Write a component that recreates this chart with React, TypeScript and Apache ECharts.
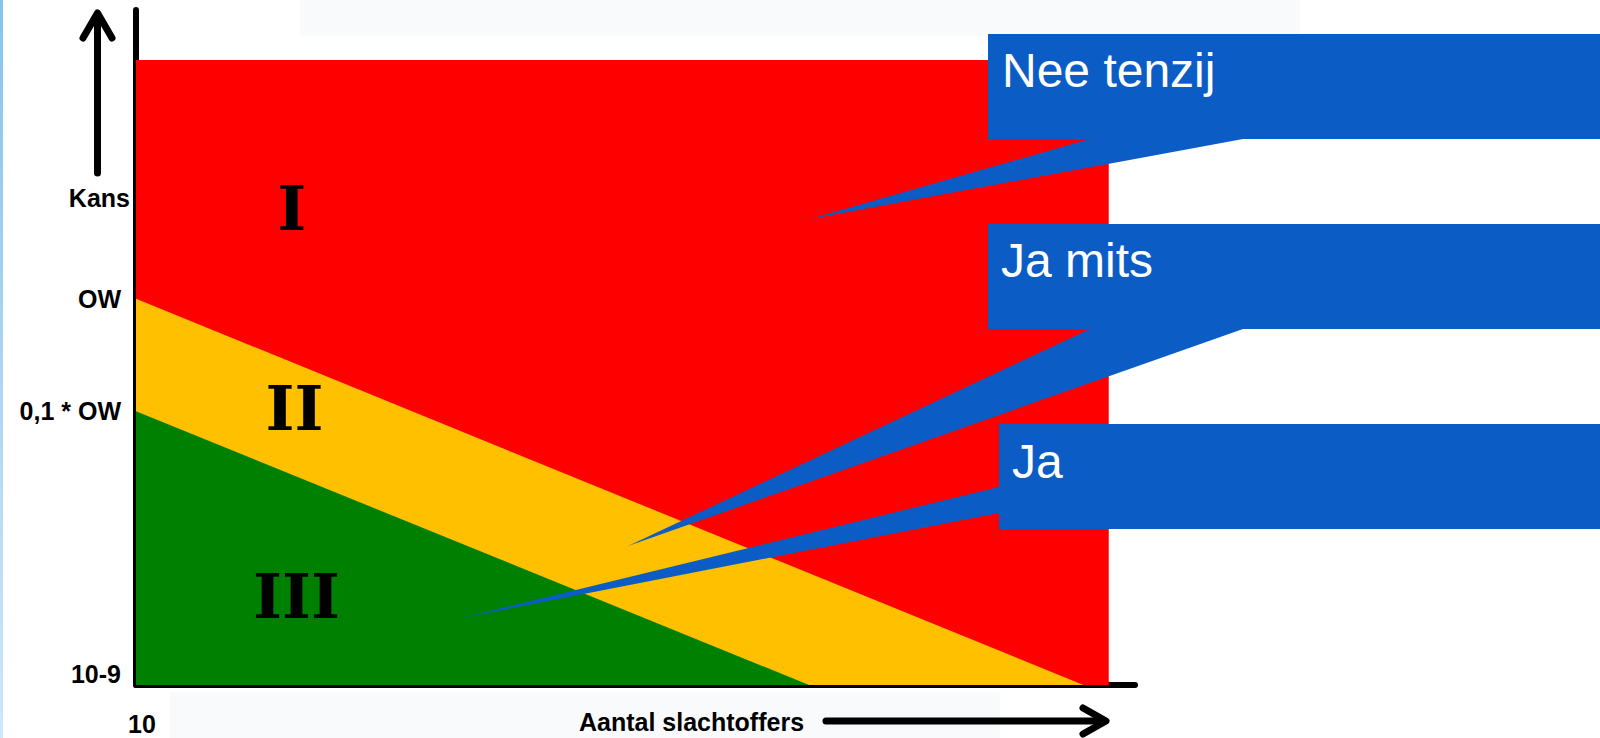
import React, { useEffect, useRef } from "react";
import * as echarts from "echarts";

// Zone boundaries (x: share of the axis, y: level on the probability axis)
const redZone = [[0, 100], [100, 100]];
const orangeZone = [[0, 61.8], [97.4, 0]];
const greenZone = [[0, 43.8], [69.2, 0]];

// Roman zone labels
const zoneNames = ["I", "II", "III"];
const zoneX = [16.0, 16.3, 16.5];
const zoneY = [76.3, 44.3, 14.2];

// Axis tick labels
const yTickValues = [1.8, 43.8, 61.8];
const yTickLabels = ["10-9", "0,1 * OW", "OW"];
const xTickValues = [0];
const xTickLabels = ["10"];

const X_MAX = 102.7;
const Y_MAX = 108;

const FONT = "'Liberation Sans', Arial, sans-serif";
const BLUE = "#0B5DC5";

export default function App() {
  const ref = useRef<HTMLDivElement>(null);

  useEffect(() => {
    if (!ref.current) return;
    const chart = echarts.init(ref.current, undefined, { renderer: "svg" });

    const areaSeries = (data: number[][], color: string) => ({
      type: "line",
      data,
      symbol: "none",
      lineStyle: { width: 0, color },
      areaStyle: { color, opacity: 1 },
      silent: true,
    });

    const callout = (pts: number[][], text: string, tx: number, ty: number) => [
      {
        type: "polygon",
        z: 100,
        shape: { points: pts },
        style: { fill: BLUE },
        silent: true,
      },
      {
        type: "text",
        z: 101,
        x: tx,
        y: ty,
        style: {
          text,
          fill: "#ffffff",
          font: `48px ${FONT}`,
          textAlign: "left",
          textVerticalAlign: "middle",
        },
      },
    ];

    const option: any = {
      animation: false,
      backgroundColor: "#ffffff",
      grid: { left: 136, right: 465, top: 10, bottom: 53, containLabel: false },
      xAxis: {
        type: "value",
        min: 0,
        max: X_MAX,
        splitLine: { show: false },
        axisTick: { show: false },
        axisLine: { show: true, lineStyle: { color: "#000", width: 6 } },
        axisLabel: {
          customValues: xTickValues,
          formatter: (v: number) => {
            const i = xTickValues.indexOf(v);
            return i >= 0 ? xTickLabels[i] : "";
          },
          color: "#000",
          fontFamily: FONT,
          fontWeight: "bold",
          fontSize: 25,
          margin: 26,
          padding: [0, 0, 0, 12],
        },
      },
      yAxis: {
        type: "value",
        min: 0,
        max: Y_MAX,
        splitLine: { show: false },
        axisTick: { show: false },
        axisLine: { show: true, lineStyle: { color: "#000", width: 6 } },
        axisLabel: {
          customValues: yTickValues,
          formatter: (v: number) => {
            const i = yTickValues.indexOf(v);
            return i >= 0 ? yTickLabels[i] : "";
          },
          color: "#000",
          fontFamily: FONT,
          fontWeight: "bold",
          fontSize: 25,
          margin: 15,
        },
      },
      series: [
        areaSeries(redZone, "#FF0000"),
        areaSeries(orangeZone, "#FFC000"),
        areaSeries(greenZone, "#008000"),
        {
          type: "scatter",
          symbolSize: 0,
          itemStyle: { color: "rgba(0,0,0,0)", opacity: 1 },
          silent: true,
          z: 5,
          data: zoneNames.map((n, i) => ({ name: n, value: [zoneX[i], zoneY[i]] })),
          label: {
            show: true,
            position: "inside",
            formatter: (p: any) => p.name,
            color: "#000",
            opacity: 1,
            fontFamily: "'DejaVu Serif', serif",
            fontWeight: "bold",
            fontSize: 62,
          },
        },
      ],
      graphic: [
        // slide decoration
        {
          type: "rect",
          z: -1,
          shape: { x: 0, y: 0, width: 3, height: 738 },
          style: {
            fill: new echarts.graphic.LinearGradient(0, 0, 0, 1, [
              { offset: 0, color: "#86c4ee" },
              { offset: 1, color: "#cfe7f8" },
            ]),
          },
          silent: true,
        },
        {
          type: "rect",
          z: -1,
          shape: { x: 300, y: 0, width: 1000, height: 36 },
          style: { fill: "#f8fafb" },
          silent: true,
        },
        {
          type: "rect",
          z: -1,
          shape: { x: 170, y: 692, width: 830, height: 46 },
          style: { fill: "#f8fafb" },
          silent: true,
        },
        // Y axis arrow
        {
          type: "line",
          z: 50,
          shape: { x1: 97.5, y1: 173, x2: 97.5, y2: 15 },
          style: { stroke: "#000", lineWidth: 7, lineCap: "round" },
        },
        {
          type: "polyline",
          z: 50,
          shape: { points: [[83, 38], [97.5, 13], [112, 38]] },
          style: { stroke: "#000", lineWidth: 7, lineCap: "round", lineJoin: "round", fill: null },
        },
        {
          type: "text",
          z: 50,
          x: 130,
          y: 198,
          style: {
            text: "Kans",
            fill: "#000",
            font: `bold 25px ${FONT}`,
            textAlign: "right",
            textVerticalAlign: "middle",
          },
        },
        // X axis title and arrow
        {
          type: "text",
          z: 50,
          x: 579,
          y: 722,
          style: {
            text: "Aantal slachtoffers",
            fill: "#000",
            font: `bold 25px ${FONT}`,
            textAlign: "left",
            textVerticalAlign: "middle",
          },
        },
        {
          type: "line",
          z: 50,
          shape: { x1: 826, y1: 721, x2: 1103, y2: 721 },
          style: { stroke: "#000", lineWidth: 7, lineCap: "round" },
        },
        {
          type: "polyline",
          z: 50,
          shape: { points: [[1083, 708], [1106, 721], [1083, 734]] },
          style: { stroke: "#000", lineWidth: 7, lineCap: "round", lineJoin: "round", fill: null },
        },
        // Callouts
        ...callout(
          [[988, 34], [1600, 34], [1600, 139], [1243, 139], [810, 219], [1090, 139], [988, 139]],
          "Nee tenzij",
          1002,
          70
        ),
        ...callout(
          [[988, 224], [1600, 224], [1600, 329], [1243, 329], [628, 546], [1090, 329], [988, 329]],
          "Ja mits",
          1001,
          260
        ),
        ...callout(
          [[999, 424], [1600, 424], [1600, 529], [999, 529], [999, 513], [461, 618], [999, 487]],
          "Ja",
          1012,
          461
        ),
      ],
    };

    chart.setOption(option);
    return () => chart.dispose();
  }, []);

  return (
    <div
      ref={ref}
      style={{ position: "fixed", left: 0, top: 0, width: 1600, height: 738 }}
    />
  );
}
